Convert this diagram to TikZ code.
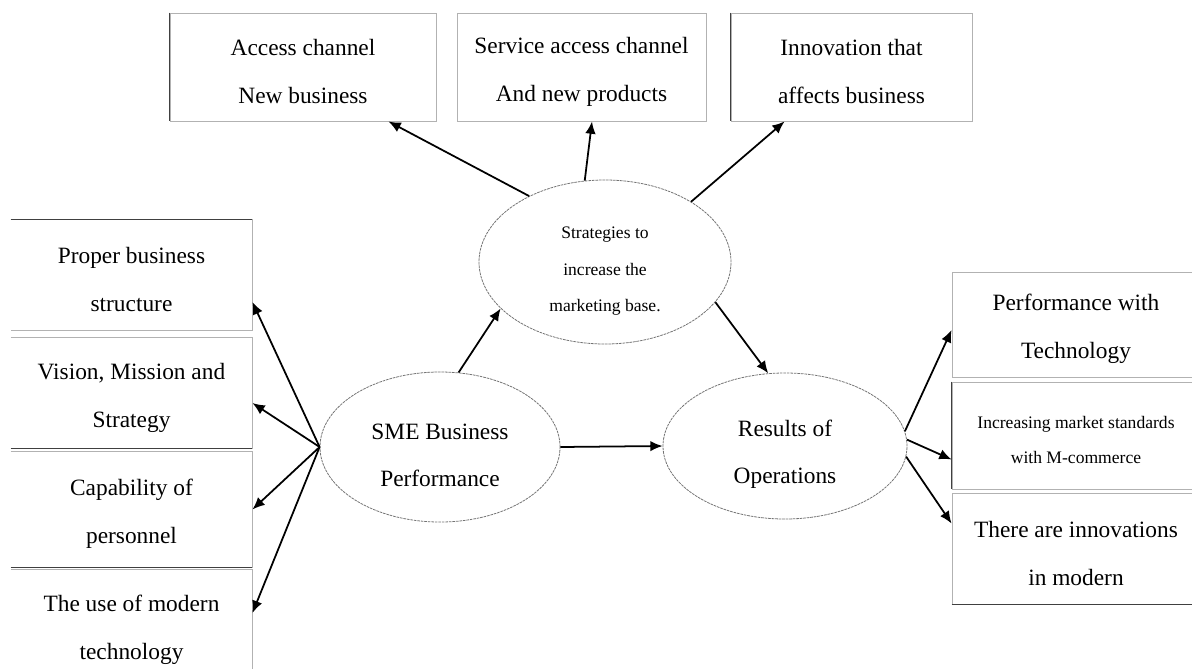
\documentclass[tikz,border=0pt]{standalone}
\usepackage{fontspec}
\setmainfont{Liberation Serif}
\usetikzlibrary{arrows,arrows.meta,shapes.geometric}
\newcommand{\boxstrut}{\rule{0pt}{14.5pt}}
\newcommand{\smallstrut}{\rule{0pt}{12pt}}
\newcommand{\ovalstrut}{\rule{0pt}{18.5pt}}

\begin{document}
\begin{tikzpicture}[>={Latex[length=7pt,width=6pt]},line width=1pt]
		\tikzstyle{box}=[rectangle, draw=black!30, line width=0.5pt, inner sep=0pt, align=center, font=\fontsize{13.3}{27.2}\selectfont]
		\tikzstyle{small box}=[box, font=\fontsize{10}{20}\selectfont]
		\tikzstyle{oval}=[ellipse, draw=black!55, line width=0.45pt, dash pattern=on 1.5pt off 0.5pt, inner sep=0pt, align=center, font=\fontsize{13.3}{26.5}\selectfont]
		\tikzstyle{dark}=[draw=black!75, line width=1pt]
		\tikzstyle{link}=[->, line width=1pt]

		\useasboundingbox (0,0) rectangle (23.84,-13.36);
		\clip (0,0) rectangle (23.84,-13.36);

		% top row
		\node [box, minimum width=5.32cm, minimum height=2.16cm] (access) at (6.06,-1.34) {\boxstrut Access channel\\New business};
		\node [box, minimum width=4.98cm, minimum height=2.16cm] (service) at (11.63,-1.34) {\boxstrut Service access channel\\And new products};
		\node [box, minimum width=4.82cm, minimum height=2.16cm] (innov) at (17.03,-1.34) {\boxstrut Innovation that\\affects business};

		% left column
		\node [box, draw=none, minimum width=4.82cm, minimum height=2.20cm] (structure) at (2.63,-5.50) {\boxstrut Proper business\\structure};
		\node [box, draw=none, minimum width=4.82cm, minimum height=2.20cm] (vision) at (2.63,-7.86) {\boxstrut Vision, Mission and\\Strategy};
		\node [box, draw=none, minimum width=4.82cm, minimum height=2.30cm] (personnel) at (2.63,-10.19) {\boxstrut Capability of\\personnel};
		\node [box, draw=none, minimum width=4.82cm, minimum height=2.20cm] (moderntech) at (2.63,-12.50) {\boxstrut The use of modern\\technology};
		\foreach \n in {structure,vision,personnel,moderntech}
			\draw [draw=black!30, line width=0.5pt] (\n.north west) -- (\n.north east) -- (\n.south east) -- (\n.south west);

		% right column
		\node [box, minimum width=4.96cm, minimum height=2.10cm] (techperf) at (21.52,-6.49) {\boxstrut Performance with\\Technology};
		\node [small box, minimum width=4.96cm, minimum height=2.14cm] (mcommerce) at (21.52,-8.71) {\smallstrut Increasing market standards\\with M-commerce};
		\node [box, minimum width=4.96cm, minimum height=2.22cm] (innovmodern) at (21.52,-10.97) {\boxstrut There are innovations\\in modern};

		% darker edges
		\draw [dark] (access.north west) -- (access.south west);
		\draw [dark] (innov.north west) -- (innov.south west);
		\draw [dark] (structure.north west) -- (structure.north east);
		\draw [dark] (vision.south west) -- (vision.south east);
		\draw [dark] (personnel.south west) -- (personnel.south east);
		\draw [dark] (mcommerce.north west) -- (mcommerce.south west);
		\draw [dark] (innovmodern.south west) -- (innovmodern.south east);

		% ellipses
		\node [oval, minimum width=5.04cm, minimum height=3.28cm, font=\fontsize{10}{20.7}\selectfont] (strat) at (12.10,-5.24) {\rule{0pt}{17pt}Strategies to\\increase the\\marketing base.};
		\node [oval, minimum width=4.80cm, minimum height=3.00cm] (sme) at (8.80,-8.94) {\ovalstrut SME Business\\Performance};
		\node [oval, minimum width=4.88cm, minimum height=2.92cm] (res) at (15.70,-8.92) {\ovalstrut Results of\\Operations};

		% connectors
		\draw [link] (sme.west) -- ([yshift=-0.54cm]structure.east);
		\draw [link] (sme.west) -- ([yshift=-0.2cm]vision.east);
		\draw [link] (sme.west) -- (personnel.east);
		\draw [link] (sme.west) -- ([yshift=0.24cm]moderntech.east);
		\draw [link] (sme.76) -- (strat.204);
		\draw [link] (sme.east) -- (res.west);
		\draw [link] (strat.139) -- ([xshift=-0.96cm]access.south east);
		\draw [link] (strat.104) -- ([xshift=0.21cm]service.south);
		\draw [link] (strat.35) -- ([xshift=1.08cm]innov.south west);
		\draw [link] (strat.-20) -- (res.103);
		\draw [link] (res.7) -- ([yshift=-0.11cm]techperf.west);
		\draw [link] (res.3) -- ([yshift=-0.48cm]mcommerce.west);
		\draw [link] (res.-5) -- ([yshift=0.5cm]innovmodern.west);
	\end{tikzpicture}
\end{document}
